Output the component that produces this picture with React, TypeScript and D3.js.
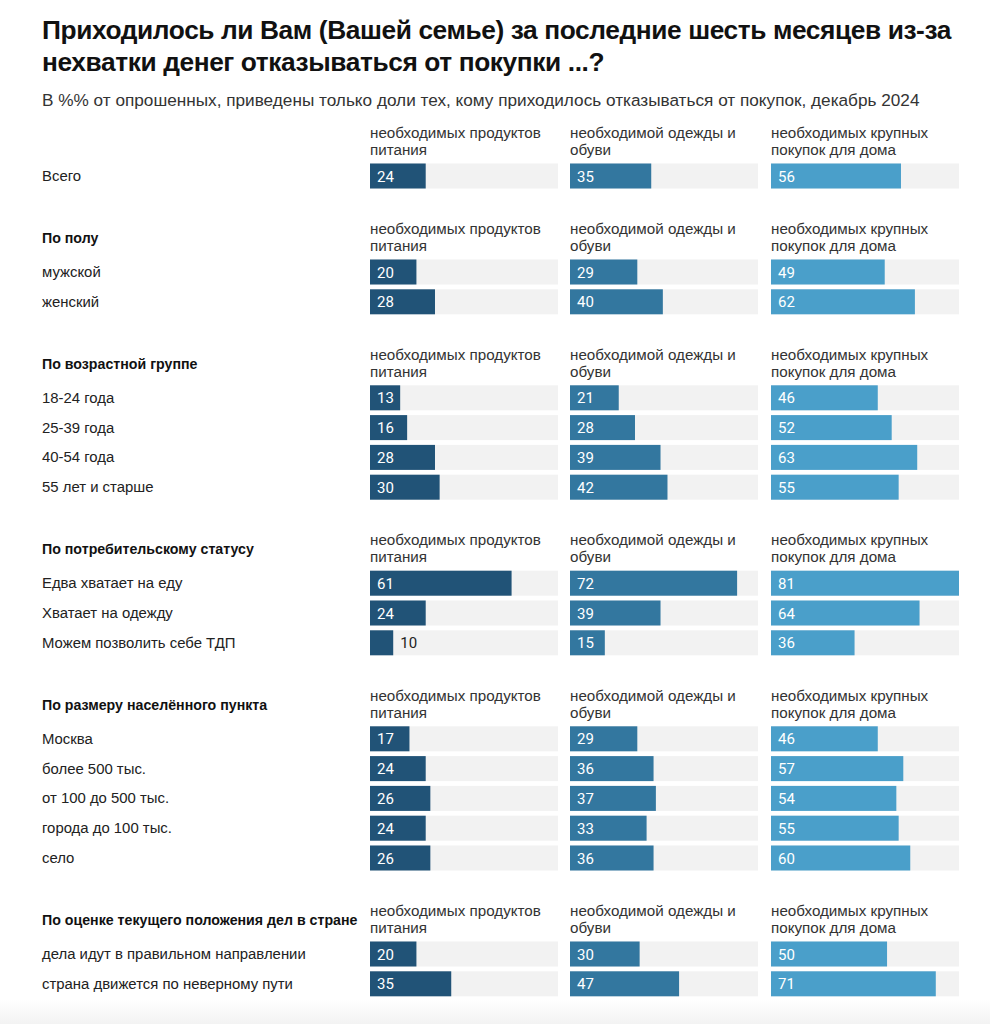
import React from "react";
import * as d3 from "d3";

const titleLines = [
  "Приходилось ли Вам (Вашей семье) за последние шесть месяцев из-за",
  "нехватки денег отказываться от покупки ...?",
];
const subtitle =
  "В %% от опрошенных, приведены только доли тех, кому приходилось отказываться от покупок, декабрь 2024";

const groupTitles = [
  "",
  "По полу",
  "По возрастной группе",
  "По потребительскому статусу",
  "По размеру населённого пункта",
  "По оценке текущего положения дел в стране",
];

const rowLabels = [
  "Всего",
  "мужской",
  "женский",
  "18-24 года",
  "25-39 года",
  "40-54 года",
  "55 лет и старше",
  "Едва хватает на еду",
  "Хватает на одежду",
  "Можем позволить себе ТДП",
  "Москва",
  "более 500 тыс.",
  "от 100 до 500 тыс.",
  "города до 100 тыс.",
  "село",
  "дела идут в правильном направлении",
  "страна движется по неверному пути",
];
const rowGroup = [0, 1, 1, 2, 2, 2, 2, 3, 3, 3, 4, 4, 4, 4, 4, 5, 5];

const food = [24, 20, 28, 13, 16, 28, 30, 61, 24, 10, 17, 24, 26, 24, 26, 20, 35];
const clothes = [35, 29, 40, 21, 28, 39, 42, 72, 39, 15, 29, 36, 37, 33, 36, 30, 47];
const home = [56, 49, 62, 46, 52, 63, 55, 81, 64, 36, 46, 57, 54, 55, 60, 50, 71];

const seriesHeaders = [
  ["необходимых продуктов", "питания"],
  ["необходимой одежды и", "обуви"],
  ["необходимых крупных", "покупок для дома"],
];
const seriesColors = ["#215377", "#33779f", "#4a9fca"];

export default function App() {
  const W = 990;
  const H = 1024;
  const colX = [370, 570, 771];
  const trackW = 188;
  const barH = 25;
  const rowStep = 29.8;
  const headToRow = 43;
  const rowToHead = 53;
  const x = d3.scaleLinear().domain([0, 81]).range([0, trackW]);
  const series = [food, clothes, home];

  const groups = d3.groups(
    rowLabels.map((l, i) => ({ l, i, g: rowGroup[i] })),
    (d) => d.g
  );
  const headY: number[] = [];
  const rowY: number[] = [];
  let y = 133;
  groups.forEach(([g, rows]) => {
    headY[g] = y;
    let ry = y + headToRow;
    rows.forEach((r, k) => {
      rowY[r.i] = ry;
      if (k < rows.length - 1) ry += rowStep;
    });
    y = ry + rowToHead;
  });

  const sans = "'Liberation Sans', Arial, Helvetica, sans-serif";
  const num = "Roboto, 'Liberation Sans', sans-serif";

  return (
    <svg
      width={W}
      height={H}
      style={{ position: "absolute", left: 0, top: 0, background: "#fff" }}
    >
      <defs>
        <linearGradient id="fade" x1="0" y1="0" x2="0" y2="1">
          <stop offset="0" stopColor="#ffffff" />
          <stop offset="1" stopColor="#f3f3f3" />
        </linearGradient>
      </defs>
      <rect x={0} y={1000} width={W} height={24} fill="url(#fade)" />
      {titleLines.map((t, i) => (
        <text
          key={i}
          x={42}
          y={39 + i * 32}
          fontFamily={sans}
          fontWeight="bold"
          fontSize={26.3}
          fill="#111"
          letterSpacing={-0.4}
        >
          {t}
        </text>
      ))}
      <text x={42} y={106} fontFamily={sans} fontSize={17.2} fill="#333">
        {subtitle}
      </text>

      {groups.map(([g]) => (
        <g key={g}>
          {groupTitles[g] && (
            <text
              x={42}
              y={headY[g] + 9 + 5}
              fontFamily={sans}
              fontWeight="bold"
              fontSize={14.2}
              fill="#111"
            >
              {groupTitles[g]}
            </text>
          )}
          {seriesHeaders.map((lines, s) =>
            lines.map((ln, li) => (
              <text
                key={s + "-" + li}
                x={colX[s]}
                y={headY[g] + li * 17 + 5}
                fontFamily={sans}
                fontSize={15.2}
                fill="#333"
              >
                {ln}
              </text>
            ))
          )}
        </g>
      ))}

      {rowLabels.map((lab, i) => (
        <g key={i}>
          <text
            x={42}
            y={rowY[i] + 5}
            fontFamily={sans}
            fontSize={14.9}
            fill="#222"
          >
            {lab}
          </text>
          {series.map((vals, s) => {
            const v = vals[i];
            const w = x(v);
            const inside = w > 30;
            return (
              <g key={s}>
                <rect
                  x={colX[s]}
                  y={rowY[i] - barH / 2}
                  width={trackW}
                  height={barH}
                  fill="#f2f2f2"
                />
                <rect
                  x={colX[s]}
                  y={rowY[i] - barH / 2}
                  width={w}
                  height={barH}
                  fill={seriesColors[s]}
                />
                <text
                  x={inside ? colX[s] + 7 : colX[s] + w + 7}
                  y={rowY[i] + 5.5}
                  fontFamily={num}
                  fontSize={15}
                  fill={inside ? "#fff" : "#222"}
                >
                  {v}
                </text>
              </g>
            );
          })}
        </g>
      ))}
    </svg>
  );
}
